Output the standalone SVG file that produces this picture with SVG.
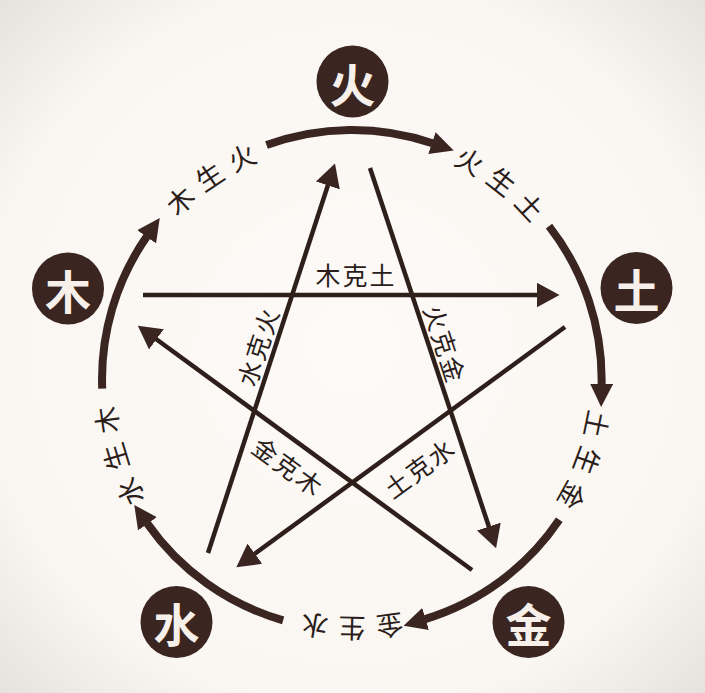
<svg xmlns="http://www.w3.org/2000/svg" width="705" height="693" viewBox="0 0 705 693">
<defs>
<radialGradient id="bg" cx="50%" cy="50%" r="72%">
<stop offset="0" stop-color="#fdfaf7"/>
<stop offset="0.72" stop-color="#faf6f2"/>
<stop offset="1" stop-color="#e4e0dc"/>
</radialGradient>
<marker id="ahArc" markerUnits="userSpaceOnUse" markerWidth="23" markerHeight="23" viewBox="0 0 23 23" refX="0.5" refY="11.5" orient="auto">
<path d="M0,0 L23,11.5 L0,23 z" fill="#3a2520"/>
</marker>
<marker id="ahLine" markerUnits="userSpaceOnUse" markerWidth="23" markerHeight="25" viewBox="0 0 23 25" refX="0.5" refY="12.5" orient="auto">
<path d="M0,0 L23,12.5 L0,25 z" fill="#3a2520"/>
</marker>
<path id="p1" d="M110.5,315.3 A250,250 0 0 1 373.8,131"/>
<path id="p2" d="M338.9,130.3 A250,250 0 0 1 595.6,323.8"/>
<path id="p3" d="M585.4,290.4 A250,250 0 0 1 480.8,594.3"/>
<path id="p4" d="M512.7,571.5 A250,250 0 0 1 191.3,571.5"/>
<path id="p5" d="M219.5,592 A250,250 0 0 1 120.2,286.4"/>
<style>
.node circle{fill:#3a2520}
.node text{fill:#f7f0ea;font-family:"Noto Sans CJK SC","Noto Sans CJK JP",sans-serif;font-weight:bold;font-size:46px;text-anchor:middle;dominant-baseline:central}
.arc{fill:none;stroke:#3a2520;stroke-width:8;marker-end:url(#ahArc)}
.ke{fill:none;stroke:#2f1f1b;stroke-width:4.5;marker-end:url(#ahLine)}
.lbl{fill:#2a1d1a;font-family:"Noto Sans CJK SC","Noto Sans CJK JP",sans-serif;font-size:27px;letter-spacing:11px;dominant-baseline:central}
.kl{fill:#2a1d1a;font-family:"Noto Sans CJK SC","Noto Sans CJK JP",sans-serif;font-size:25px;letter-spacing:2px;text-anchor:middle;dominant-baseline:central}
</style>
</defs>
<rect width="705" height="693" fill="url(#bg)"/>

<g id="connectors">
<path class="arc" d="M266.5,145.1 A250,250 0 0 1 432.4,143.2"/>
<path class="arc" d="M549,226.1 A250,250 0 0 1 601.6,384.4"/>
<path class="arc" d="M559.3,519.8 A250,250 0 0 1 425.1,619.1"/>
<path class="arc" d="M283.1,620.3 A250,250 0 0 1 147.2,523.4"/>
<path class="arc" d="M102.2,388.7 A250,250 0 0 1 146.9,236.4"/>
<path class="ke" d="M143,295 L537,295"/>
<path class="ke" d="M370,168 L489,527"/>
<path class="ke" d="M565,327 L254.5,554"/>
<path class="ke" d="M472,570 L156,339"/>
<path class="ke" d="M208,553 L328,185"/>
</g>

<g id="labels-sheng">
<text class="lbl"><textPath href="#p1" startOffset="123">木生火</textPath></text>
<text class="lbl"><textPath href="#p2" startOffset="123">火生土</textPath></text>
<text class="lbl"><textPath href="#p3" startOffset="123">土生金</textPath></text>
<text class="lbl"><textPath href="#p4" startOffset="123">金生水</textPath></text>
<text class="lbl"><textPath href="#p5" startOffset="123">水生木</textPath></text>
</g>

<g id="labels-ke">
<text class="kl" transform="translate(356,274)">木克土</text>
<text class="kl" transform="translate(257,346) rotate(-72)">水克火</text>
<text class="kl" transform="translate(446,344) rotate(72)">火克金</text>
<text class="kl" transform="translate(289,466) rotate(36)">金克木</text>
<text class="kl" transform="translate(419,467) rotate(-36)">土克水</text>
</g>

<g id="node-huo" class="node"><circle cx="352.5" cy="81.5" r="36"/><text x="352.5" y="81.5">火</text></g>
<g id="node-tu" class="node"><circle cx="636.5" cy="288" r="36"/><text x="636.5" y="288">土</text></g>
<g id="node-jin" class="node"><circle cx="528.5" cy="622" r="36"/><text x="528.5" y="622">金</text></g>
<g id="node-shui" class="node"><circle cx="176.5" cy="622" r="36"/><text x="176.5" y="622">水</text></g>
<g id="node-mu" class="node"><circle cx="68" cy="288.5" r="36"/><text x="68" y="288.5">木</text></g>
</svg>
